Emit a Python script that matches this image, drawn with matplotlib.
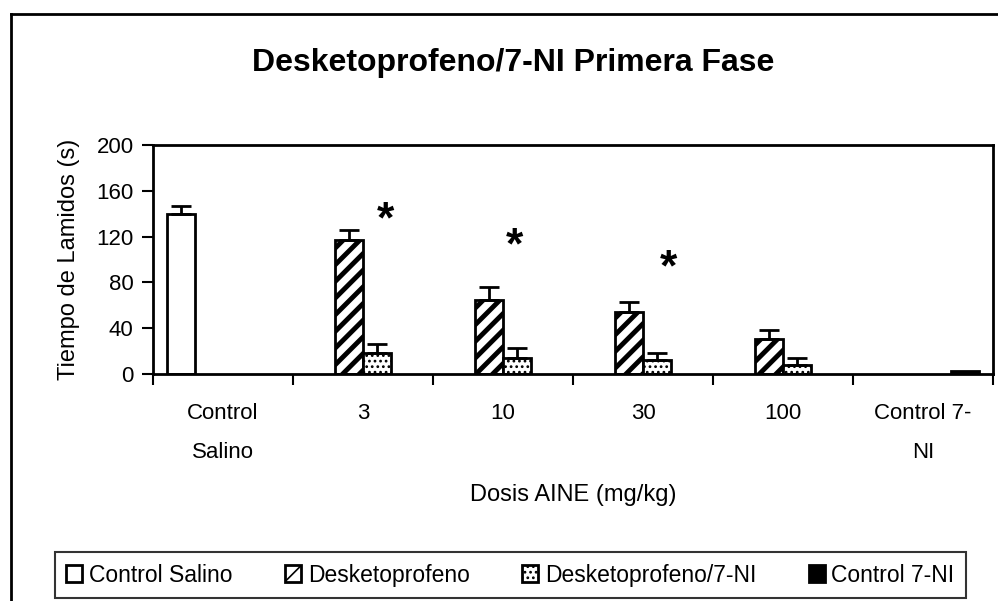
import matplotlib.pyplot as plt
import numpy as np
from matplotlib.lines import Line2D

plt.rcParams['font.family'] = ['Liberation Sans', 'DejaVu Sans']

# datos
categorias = ['Control\nSalino', '3', '10', '30', '100', 'Control 7-\nNI']
series = ['Control Salino', 'Desketoprofeno', 'Desketoprofeno/7-NI', 'Control 7-NI']

salino_idx = [0]
salino = [140]
salino_err = [7]

dosis_idx = [1, 2, 3, 4]
desketo = [117, 65, 54, 31]
desketo_err = [9, 11, 9, 7]
desketo_ni = [18, 14, 12, 8]
desketo_ni_err = [8, 9, 6, 6]

control_ni_idx = [5]
control_ni = [3]

asterisco_x = [1.16, 2.08, 3.18]
asterisco_y = [134, 111, 92]

fig = plt.figure(figsize=(9.98, 6.01), dpi=100)
ax = fig.add_axes([0.1533, 0.3777, 0.8417, 0.381])

w = 0.2
ekw = dict(ecolor='black', elinewidth=2, capsize=7, capthick=2)

plt.rcParams['hatch.linewidth'] = 3.5
ax.bar(np.array(salino_idx) - 1.5 * w, salino, w, color='white', edgecolor='black',
       linewidth=2, yerr=[[0] * len(salino), salino_err], error_kw=ekw, label=series[0])
ax.bar(np.array(dosis_idx) - 0.5 * w, desketo, w, color='white', edgecolor='black',
       linewidth=2, hatch='//', yerr=[[0] * 4, desketo_err], error_kw=ekw, label=series[1])
plt.rcParams['hatch.linewidth'] = 1.2
ax.bar(np.array(dosis_idx) + 0.5 * w, desketo_ni, w, color='white', edgecolor='black',
       linewidth=2, hatch='...', yerr=[[0] * 4, desketo_ni_err], error_kw=ekw, label=series[2])
ax.bar(np.array(control_ni_idx) + 1.5 * w, control_ni, w, color='black', edgecolor='black',
       linewidth=2, label=series[3])

for x, y in zip(asterisco_x, asterisco_y):
    ax.text(x, y, '*', fontsize=32, fontweight='bold', ha='center', va='center')

ax.set_xlim(-0.5, 5.5)
ax.set_ylim(0, 200)
ax.set_yticks(np.arange(0, 201, 40))
ax.set_xticks(range(len(categorias)))
ax.set_xticklabels(categorias, linespacing=2.1)
ax.set_xticks(np.arange(-0.5, 6, 1), minor=True)
ax.tick_params(axis='x', which='major', length=0, pad=21, labelsize=16)
ax.tick_params(axis='x', which='minor', length=8, width=1.5, direction='out')
ax.tick_params(axis='y', length=8, width=1.5, direction='out', labelsize=16, pad=6)
for s in ax.spines.values():
    s.set_linewidth(2)

ax.set_ylabel('Tiempo de Lamidos (s)', fontsize=17, labelpad=12)
ax.set_xlabel('Dosis AINE (mg/kg)', fontsize=17, labelpad=15)
fig.text(0.514, 0.895, 'Desketoprofeno/7-NI Primera Fase', fontsize=23, fontweight='bold',
         ha='center', va='center')

# marco exterior
fig.add_artist(Line2D([0.011, 0.011], [0, 0.977], color='black', lw=2))
fig.add_artist(Line2D([0.011, 1], [0.977, 0.977], color='black', lw=2))

leg = fig.legend(loc='lower left', bbox_to_anchor=(0.055, 0.005, 0.913, 0.078), mode='expand',
                 ncol=4, fontsize=16.5, frameon=True, fancybox=False, handlelength=0.7,
                 handleheight=0.7, handletextpad=0.3, columnspacing=0.5, borderaxespad=0,
                 borderpad=0.5)
leg.get_frame().set_edgecolor('black')
leg.get_frame().set_linewidth(1.5)

fig.savefig('out.png', dpi=100)
